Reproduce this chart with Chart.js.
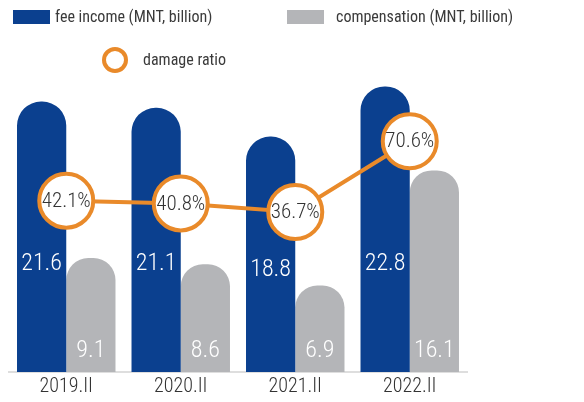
<!DOCTYPE html>
<html lang="en">
<head>
<meta charset="UTF-8">
<title>Fee income, compensation and damage ratio</title>
<script src="https://cdn.jsdelivr.net/npm/chart.js"></script>
<style>
    html, body { margin: 0; padding: 0; background: #fff; }
    body { width: 584px; height: 402px; position: relative; overflow: hidden;
           font-family: 'Roboto Condensed', 'Liberation Sans Narrow', sans-serif; color: #3a3a3a; }
    #wrap { position: absolute; left: 0; top: 0; width: 584px; height: 402px; }
    .key { position: absolute; font-size: 16px; line-height: 20px; white-space: nowrap; }
    .box { position: absolute; width: 37px; height: 14px; }
    .ring { position: absolute; width: 26px; height: 26px; box-sizing: border-box;
            border: 4px solid #e98a2a; border-radius: 50%; background: #fff; }
</style>
</head>
<body>
<div id="wrap"><canvas id="chart"></canvas></div>

<div class="box" style="left:13px;top:10px;background:#0b408f"></div>
<div class="key" style="left:55px;top:7px">fee income (MNT, billion)</div>
<div class="box" style="left:287px;top:10px;background:#b4b5b8"></div>
<div class="key" style="left:336px;top:7px">compensation (MNT, billion)</div>
<div class="ring" style="left:102px;top:47px"></div>
<div class="key" style="left:143px;top:50px">damage ratio</div>

<script>
    const FONT = "'Roboto Condensed', 'Liberation Sans Narrow', sans-serif";
    const BLUE = '#0b408f';
    const GREY = '#b4b5b8';
    const ORANGE = '#e98a2a';

    // Half-year figures
    const periods = ['2019.II', '2020.II', '2021.II', '2022.II'];
    const feeIncome = [21.6, 21.1, 18.8, 22.8];
    const compensation = [9.1, 8.6, 6.9, 16.1];
    const damageRatio = [42.1, 40.8, 36.7, 70.6];

    // Numbers inside the bars and inside the ratio circles
    const valueLabels = {
        id: 'valueLabels',
        afterDatasetsDraw(chart) {
            const ctx = chart.ctx;
            const fee = chart.getDatasetMeta(1).data;
            const comp = chart.getDatasetMeta(2).data;
            const ratio = chart.getDatasetMeta(0).data;
            ctx.save();
            ctx.textAlign = 'center';
            ctx.textBaseline = 'middle';
            ctx.fillStyle = '#fff';
            ctx.font = '300 24px ' + FONT;
            fee.forEach((bar, i) => {
                const y = Math.max(ratio[i].y + 58, 264);
                ctx.fillText(feeIncome[i].toFixed(1), bar.x, y);
            });
            comp.forEach((bar, i) => {
                ctx.fillText(compensation[i].toFixed(1), bar.x, bar.base - 21);
            });
            ctx.fillStyle = '#333';
            ctx.font = '300 21px ' + FONT;
            ratio.forEach((pt, i) => {
                ctx.fillText(damageRatio[i].toFixed(1) + '%', pt.x, pt.y + 1);
            });
            ctx.restore();
        }
    };

    new Chart(document.getElementById('chart'), {
        data: {
            labels: periods,
            datasets: [
                {
                    type: 'line',
                    label: 'damage ratio',
                    data: damageRatio,
                    yAxisID: 'y1',
                    order: 0,
                    borderColor: ORANGE,
                    borderWidth: 4,
                    pointRadius: 27,
                    pointBorderWidth: 4,
                    pointBorderColor: ORANGE,
                    pointBackgroundColor: '#fff',
                    clip: false
                },
                {
                    type: 'bar',
                    label: 'fee income (MNT, billion)',
                    data: feeIncome,
                    yAxisID: 'y',
                    order: 1,
                    backgroundColor: BLUE,
                    borderRadius: { topLeft: 24, topRight: 24 },
                    barPercentage: 1,
                    categoryPercentage: 0.86
                },
                {
                    type: 'bar',
                    label: 'compensation (MNT, billion)',
                    data: compensation,
                    yAxisID: 'y',
                    order: 1,
                    backgroundColor: GREY,
                    borderRadius: { topLeft: 22, topRight: 22 },
                    barPercentage: 1,
                    categoryPercentage: 0.86
                }
            ]
        },
        options: {
            responsive: true,
            maintainAspectRatio: false,
            animation: false,
            layout: { autoPadding: false, padding: { top: 59, left: 9, right: 117, bottom: 0 } },
            plugins: { legend: { display: false }, tooltip: { enabled: false } },
            scales: {
                x: {
                    grid: { display: false, drawTicks: false },
                    border: { display: true, color: '#dedede', width: 2 },
                    ticks: { color: '#333', font: { family: FONT, size: 20, weight: 300, lineHeight: 1 }, padding: 5 },
                    // the bar groups leave enough room for the tick labels
                    afterFit(scale) { scale.paddingLeft = 0; scale.paddingRight = 0; }
                },
                y: { display: false, min: 0, max: 25 },
                y1: { display: false, min: -40, max: 110 }
            }
        },
        plugins: [valueLabels]
    });
</script>
</body>
</html>
